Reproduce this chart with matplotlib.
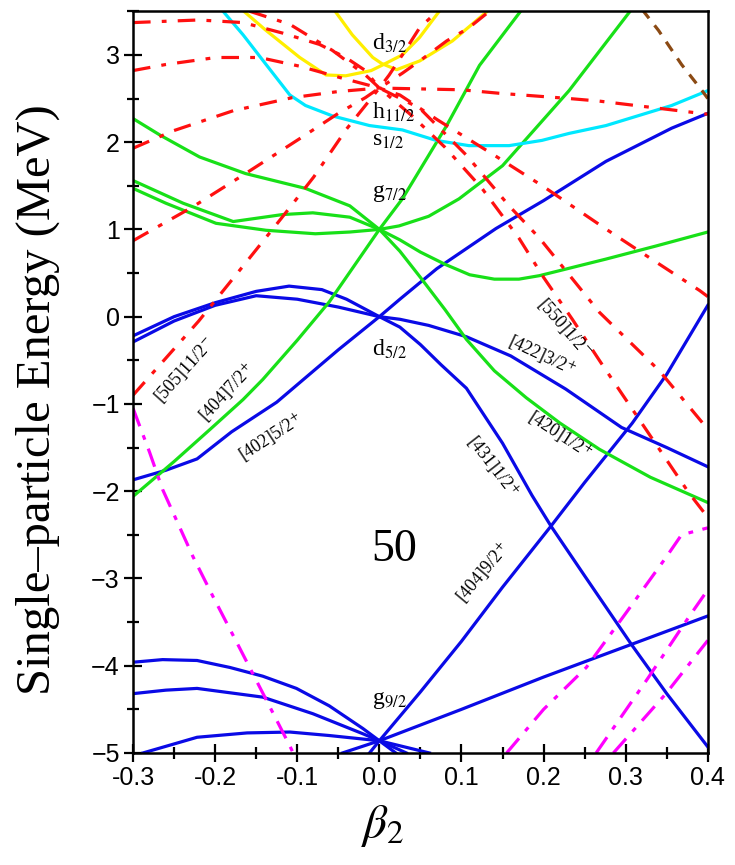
import matplotlib
matplotlib.use("Agg")
import matplotlib.pyplot as plt
from matplotlib.ticker import MultipleLocator, FormatStrFormatter

plt.rcParams["mathtext.fontset"] = "stix"
plt.rcParams["font.family"] = "Liberation Serif"

# ---- blue levels (d5/2, g9/2) ----
b402_x = [-0.3, -0.26, -0.222, -0.18, -0.125, -0.1, -0.05, 0, 0.025, 0.07, 0.142, 0.2, 0.276, 0.356, 0.4]
b402_y = [-1.87, -1.76, -1.63, -1.32, -0.98, -0.78, -0.38, 0, 0.2, 0.55, 1.01, 1.33, 1.78, 2.16, 2.33]

b431_x = [-0.3, -0.25, -0.2, -0.15, -0.11, -0.07, -0.04, 0, 0.025, 0.05, 0.075, 0.106, 0.15, 0.186, 0.209, 0.25, 0.308, 0.35, 0.4]
b431_y = [-0.22, 0.0, 0.16, 0.29, 0.35, 0.31, 0.2, 0, -0.12, -0.32, -0.55, -0.82, -1.45, -2.05, -2.4, -2.97, -3.77, -4.32, -4.93]

b422_x = [-0.3, -0.25, -0.2, -0.15, -0.1, -0.05, 0, 0.025, 0.06, 0.106, 0.16, 0.227, 0.295, 0.35, 0.4]
b422_y = [-0.29, -0.05, 0.13, 0.24, 0.2, 0.11, 0, -0.03, -0.1, -0.23, -0.45, -0.83, -1.27, -1.5, -1.72]

b404_x = [-0.012, 0, 0.05, 0.1, 0.15, 0.209, 0.25, 0.308, 0.35, 0.4]
b404_y = [-5.0, -4.86, -4.3, -3.72, -3.1, -2.4, -1.9, -1.22, -0.66, 0.13]

b413_x = [-0.045, 0, 0.1, 0.2, 0.3, 0.4]
b413_y = [-5.0, -4.86, -4.5, -4.13, -3.78, -3.43]

bg1_x = [-0.3, -0.264, -0.222, -0.182, -0.142, -0.101, -0.061, -0.02, 0, 0.02]
bg1_y = [-3.96, -3.93, -3.94, -4.02, -4.12, -4.26, -4.46, -4.72, -4.86, -5.0]
bg2_x = [-0.3, -0.26, -0.222, -0.142, -0.081, -0.02, 0, 0.033]
bg2_y = [-4.32, -4.28, -4.26, -4.36, -4.55, -4.78, -4.86, -5.0]
bg3_x = [-0.288, -0.222, -0.161, -0.109, -0.061, 0, 0.061]
bg3_y = [-5.0, -4.82, -4.77, -4.76, -4.8, -4.86, -5.0]

# ---- green levels (g7/2) ----
g404_x = [-0.3, -0.25, -0.206, -0.166, -0.142, -0.1, -0.061, 0, 0.028, 0.082, 0.122, 0.172]
g404_y = [-2.06, -1.66, -1.29, -0.95, -0.72, -0.27, 0.17, 1.0, 1.35, 2.19, 2.88, 3.5]

g420_x = [-0.3, -0.267, -0.219, -0.163, -0.09, -0.036, 0, 0.025, 0.05, 0.08, 0.106, 0.14, 0.179, 0.22, 0.268, 0.33, 0.4]
g420_y = [2.27, 2.08, 1.83, 1.64, 1.47, 1.27, 1.0, 0.75, 0.45, 0.08, -0.26, -0.62, -0.93, -1.22, -1.52, -1.84, -2.13]

gwav_x = [-0.3, -0.239, -0.178, -0.118, -0.081, -0.036, 0, 0.024, 0.06, 0.097, 0.15, 0.231, 0.307]
gwav_y = [1.56, 1.3, 1.09, 1.17, 1.19, 1.14, 1.0, 1.04, 1.15, 1.35, 1.73, 2.59, 3.52]

gmin_x = [-0.3, -0.26, -0.199, -0.138, -0.078, -0.036, 0, 0.025, 0.05, 0.08, 0.11, 0.14, 0.17, 0.195, 0.276, 0.337, 0.4]
gmin_y = [1.47, 1.3, 1.07, 0.99, 0.95, 0.97, 1.0, 0.88, 0.74, 0.6, 0.48, 0.43, 0.43, 0.47, 0.66, 0.81, 0.97]

# ---- red dash-dot levels (h11/2) ----
r11_x = [-0.3, -0.22, -0.16, -0.12, -0.08, -0.04, 0, 0.012, 0.028, 0.049, 0.073]
r11_y = [-0.9, -0.05, 0.65, 1.12, 1.6, 2.15, 2.62, 2.77, 3.0, 3.31, 3.52]
r9_x = [-0.3, -0.227, -0.163, -0.097, -0.05, -0.017, 0, 0.028, 0.049, 0.082, 0.109, 0.134]
r9_y = [0.87, 1.26, 1.64, 2.04, 2.33, 2.51, 2.62, 2.79, 2.93, 3.16, 3.31, 3.5]
r7_x = [-0.3, -0.251, -0.178, -0.106, -0.05, 0, 0.1, 0.146, 0.231, 0.268, 0.4]
r7_y = [1.93, 2.13, 2.36, 2.51, 2.58, 2.62, 2.6, 2.56, 2.5, 2.47, 2.32]
r5_x = [-0.3, -0.26, -0.199, -0.146, -0.097, -0.048, 0, 0.025, 0.07, 0.14, 0.2, 0.275, 0.325, 0.39, 0.4]
r5_y = [2.82, 2.89, 2.97, 2.97, 2.87, 2.74, 2.62, 2.54, 2.26, 1.85, 1.49, 1.01, 0.7, 0.3, 0.23]
r3_x = [-0.3, -0.22, -0.166, -0.118, -0.073, -0.041, -0.017, 0, 0.049, 0.106, 0.158, 0.195, 0.268, 0.341, 0.4]
r3_y = [3.37, 3.40, 3.37, 3.25, 3.12, 2.97, 2.82, 2.62, 2.39, 1.85, 1.27, 0.9, 0.05, -0.62, -1.29]
r1_x = [-0.158, -0.109, -0.057, -0.017, 0, 0.04, 0.08, 0.125, 0.17, 0.2, 0.235, 0.27, 0.308, 0.377, 0.4]
r1_y = [3.5, 3.35, 3.05, 2.77, 2.62, 2.3, 1.94, 1.47, 0.9, 0.45, -0.03, -0.53, -1.06, -2.02, -2.3]

# ---- yellow (d3/2), cyan (s1/2), brown ----
y1_x = [-0.17, -0.138, -0.097, -0.065, -0.041, -0.01, 0.003, 0.028, 0.049, 0.073]
y1_y = [3.54, 3.28, 2.97, 2.77, 2.76, 2.82, 2.88, 3.0, 3.2, 3.5]
y2_x = [-0.057, -0.033, -0.008, 0.003, 0.021, 0.049, 0.089, 0.134]
y2_y = [3.54, 3.23, 2.97, 2.9, 2.83, 2.93, 3.16, 3.52]

s_x = [-0.194, -0.166, -0.138, -0.109, -0.09, -0.057, -0.012, 0.028, 0.069, 0.109, 0.158, 0.198, 0.231, 0.276, 0.356, 0.4]
s_y = [3.54, 3.23, 2.89, 2.54, 2.42, 2.3, 2.19, 2.14, 2.02, 1.96, 1.96, 2.02, 2.1, 2.19, 2.42, 2.59]

br_x = [0.32, 0.34, 0.368, 0.393, 0.4]
br_y = [3.52, 3.28, 2.89, 2.59, 2.5]

# ---- magenta dash-dot ----
ml_x = [-0.3, -0.28, -0.264, -0.227, -0.203, -0.17, -0.14, -0.109, -0.105]
ml_y = [-1.05, -1.55, -1.98, -2.75, -3.2, -3.8, -4.35, -4.92, -5.0]
m1_x = [0.155, 0.2, 0.252, 0.3, 0.349, 0.368, 0.4]
m1_y = [-5.0, -4.5, -4.02, -3.4, -2.76, -2.5, -2.42]
m2_x = [0.264, 0.328, 0.377, 0.4]
m2_y = [-5.0, -4.13, -3.44, -3.13]
m3_x = [0.285, 0.349, 0.4]
m3_y = [-5.0, -4.32, -3.71]

# orbital labels: text, beta, energy, angle
orbit_labels = [
    (r"[505]11/2$^{-}$", -0.237, -0.61, 48),
    (r"[404]7/2$^{+}$", -0.185, -0.88, 47),
    (r"[402]5/2$^{+}$", -0.131, -1.39, 33),
    (r"[550]1/2$^{-}$", 0.225, -0.13, -49),
    (r"[422]3/2$^{+}$", 0.197, -0.46, -25),
    (r"[420]1/2$^{+}$", 0.219, -1.36, -33),
    (r"[431]1/2$^{+}$", 0.137, -1.72, -52),
    (r"[404]9/2$^{+}$", 0.128, -2.94, 50),
]
shell_labels = [
    (r"d$_{3/2}$", 3.13),
    (r"h$_{11/2}$", 2.34),
    (r"s$_{1/2}$", 2.02),
    (r"g$_{7/2}$", 1.41),
    (r"d$_{5/2}$", -0.38),
    (r"g$_{9/2}$", -4.4),
]

fig = plt.figure(figsize=(7.35, 8.65), dpi=100)
ax = fig.add_axes([0.181, 0.1295, 0.782, 0.8575])

blue = "#0a0ae6"
green = "#18e018"
red = "#ff1010"
dashdot = (0, (5.5, 3.5, 1.5, 3.5))
lw = 2.3

for xs, ys in [(b402_x, b402_y), (b431_x, b431_y), (b422_x, b422_y), (b404_x, b404_y),
               (b413_x, b413_y), (bg1_x, bg1_y), (bg2_x, bg2_y), (bg3_x, bg3_y)]:
    ax.plot(xs, ys, color=blue, lw=lw)

for xs, ys in [(g404_x, g404_y), (g420_x, g420_y), (gwav_x, gwav_y), (gmin_x, gmin_y)]:
    ax.plot(xs, ys, color=green, lw=lw)

ax.plot(y1_x, y1_y, color="#ffee00", lw=lw)
ax.plot(y2_x, y2_y, color="#ffee00", lw=lw)
ax.plot(s_x, s_y, color="#00e8ff", lw=lw)

for xs, ys in [(r11_x, r11_y), (r9_x, r9_y), (r7_x, r7_y), (r5_x, r5_y), (r3_x, r3_y), (r1_x, r1_y)]:
    ax.plot(xs, ys, color=red, lw=lw, linestyle=dashdot)

for xs, ys in [(ml_x, ml_y), (m1_x, m1_y), (m2_x, m2_y), (m3_x, m3_y)]:
    ax.plot(xs, ys, color="#ff00ff", lw=lw, linestyle=(0, (6, 3, 1.5, 3)))

ax.plot(br_x, br_y, color="#8b4a14", lw=lw, linestyle=(0, (3.5, 2.8)))

for txt, bx, ey, ang in orbit_labels:
    ax.text(bx, ey, txt, fontsize=13, rotation=ang, ha="center", va="center",
            rotation_mode="anchor")
for txt, ey in shell_labels:
    ax.text(-0.009, ey, txt, fontsize=17, ha="left", va="center")

ax.text(0.018, -2.67, "50", fontsize=33, ha="center", va="center")

ax.set_xlim(-0.3, 0.4)
ax.set_ylim(-5, 3.5)
ax.xaxis.set_major_locator(MultipleLocator(0.1))
ax.xaxis.set_minor_locator(MultipleLocator(0.05))
ax.yaxis.set_major_locator(MultipleLocator(1))
ax.yaxis.set_minor_locator(MultipleLocator(0.5))
ax.xaxis.set_major_formatter(FormatStrFormatter("%.1f"))
ax.tick_params(which="both", direction="inout", top=False, right=False, width=1.6,
               labelsize=18, labelfontfamily="Liberation Sans", pad=3)
ax.tick_params(which="major", length=13)
ax.tick_params(which="minor", length=8)
for s in ax.spines.values():
    s.set_linewidth(1.8)

fig.text(0.052, 1 - 400 / 865, "Single\u2013particle Energy (MeV)", rotation=90,
         fontsize=35, ha="center", va="center")
fig.text(383 / 735, 1 - 826 / 865, r"$\beta_2$", fontsize=34, ha="center", va="center")

fig.savefig("out.png", dpi=100)
